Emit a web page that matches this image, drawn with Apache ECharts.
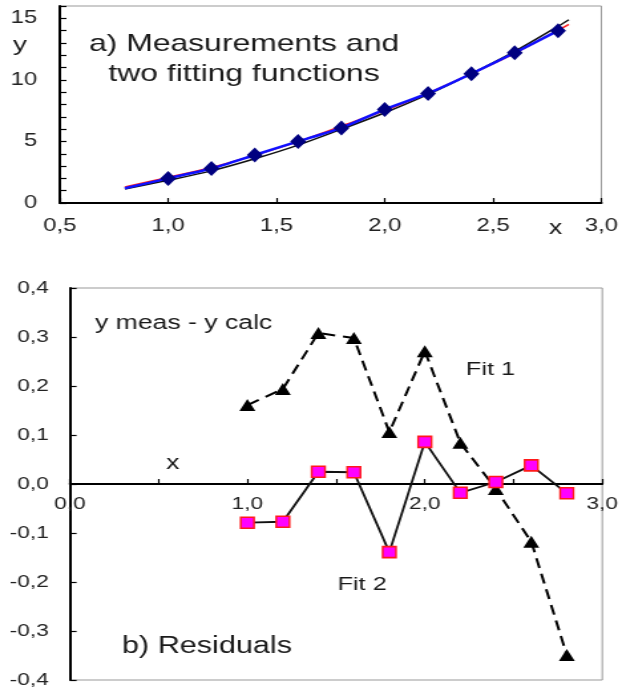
<!DOCTYPE html>
<html>
<head>
<meta charset="utf-8">
<script src="https://cdn.jsdelivr.net/npm/echarts@6/dist/echarts.min.js"></script>
<style>
  html, body { margin: 0; padding: 0; background: #fff; overflow: hidden; }
  /* the figure is laid out on a narrower canvas and widened horizontally */
  #chart { width: 468px; height: 691px; transform: scaleX(1.329); transform-origin: 0 0; }
</style>
</head>
<body>
<div id="chart"></div>
<script>
// Measurements
const xMeas = [1.0, 1.2, 1.4, 1.6, 1.8, 2.0, 2.2, 2.4, 2.6, 2.8];
const yMeas = [2.0, 2.8, 3.9, 5.0, 6.1, 7.6, 8.9, 10.5, 12.2, 14.0];

// Curve through the measurements (blue)
const xTrend = [0.8, 1.0, 1.2, 1.4, 1.6, 1.8, 2.0, 2.2, 2.4, 2.6, 2.8];
const yTrend = [1.2, 2.0, 2.8, 3.9, 5.0, 6.1, 7.6, 8.9, 10.5, 12.2, 14.0];

// Fitting functions evaluated on a grid
const xFit = [0.8, 1.0, 1.2, 1.4, 1.6, 1.8, 2.0, 2.2, 2.4, 2.6, 2.8, 2.85];
const yFit1 = [1.13, 1.84, 2.61, 3.59, 4.70, 5.99, 7.33, 8.82, 10.51, 12.32, 14.35, 14.88];
const yFit2 = [1.30, 2.08, 2.88, 3.88, 4.98, 6.24, 7.51, 8.92, 10.50, 12.16, 14.02, 14.50];

// Residuals y meas - y calc
const resFit1 = [0.161, 0.194, 0.308, 0.298, 0.106, 0.271, 0.084, -0.010, -0.118, -0.349];
const resFit2 = [-0.079, -0.077, 0.025, 0.024, -0.139, 0.086, -0.018, 0.004, 0.038, -0.019];

// Labelled ticks
const topYLabelled = [0, 5, 10, 15];
const botXLabelled = [0, 1, 2, 3];

const pairs = (xs, ys) => xs.map((x, i) => [x, ys[i]]);
const comma = v => (Math.abs(v) < 1e-9 ? 0 : v).toFixed(1).replace('.', ',');
const FONT = "'Liberation Sans', Arial, sans-serif";
const near = (list, v) => list.some(t => Math.abs(t - v) < 1e-9);

// residual panel: height of the plot area, the x axis sits at its middle (y = 0)
const RES_HEIGHT = 392;

const chart = echarts.init(document.getElementById('chart'));

const axisLine = { lineStyle: { color: '#000', width: 2 } };
const axisTick = { inside: true, length: 5, lineStyle: { color: '#000', width: 1.2 } };

chart.setOption({
  backgroundColor: '#fff',
  animation: false,
  grid: [
    { left: 45, right: 15, top: 6, height: 197, show: true, borderColor: '#999', borderWidth: 1 },
    { left: 52.6, right: 12, top: 288, height: RES_HEIGHT, show: true, borderColor: '#999', borderWidth: 1 }
  ],
  xAxis: [
    {
      gridIndex: 0, type: 'value', min: 0.5, max: 3.0, interval: 0.5,
      axisLine, axisTick, splitLine: { show: false },
      axisLabel: { fontFamily: FONT, fontSize: 18, color: '#222', margin: 14, formatter: v => comma(v) }
    },
    {
      gridIndex: 1, type: 'value', min: 0, max: 3.0, interval: 0.5,
      position: 'bottom', offset: -RES_HEIGHT / 2,
      axisLine: { onZero: false, lineStyle: { color: '#000', width: 1.8 } },
      axisTick, splitLine: { show: false },
      axisLabel: {
        fontFamily: FONT, fontSize: 17, color: '#222', margin: 12,
        formatter: v => near(botXLabelled, v) ? comma(v) : ''
      }
    }
  ],
  yAxis: [
    {
      gridIndex: 0, type: 'value', min: 0, max: 16, interval: 1,
      axisLine, axisTick, splitLine: { show: false },
      axisLabel: {
        fontFamily: FONT, fontSize: 18, color: '#222', margin: 17,
        formatter: v => near(topYLabelled, v) ? String(v) : ''
      }
    },
    {
      gridIndex: 1, type: 'value', min: -0.4, max: 0.4, interval: 0.1,
      axisLine, axisTick, splitLine: { show: false },
      axisLabel: { fontFamily: FONT, fontSize: 17, color: '#222', margin: 16, formatter: v => comma(v) }
    }
  ],
  series: [
    {
      name: 'Fit 1 curve', type: 'line', xAxisIndex: 0, yAxisIndex: 0,
      data: pairs(xFit, yFit1), smooth: 0.3, showSymbol: false,
      lineStyle: { color: '#111', width: 1.5 }, z: 2
    },
    {
      name: 'Fit 2 curve', type: 'line', xAxisIndex: 0, yAxisIndex: 0,
      data: pairs(xFit, yFit2), smooth: 0.3, showSymbol: false,
      lineStyle: { color: '#ff2020', width: 1.5 }, z: 3
    },
    {
      name: 'Trend', type: 'line', xAxisIndex: 0, yAxisIndex: 0,
      data: pairs(xTrend, yTrend), smooth: 0.2, showSymbol: false,
      lineStyle: { color: '#1010ff', width: 2.5 }, z: 4
    },
    {
      name: 'Measurements', type: 'scatter', xAxisIndex: 0, yAxisIndex: 0,
      data: pairs(xMeas, yMeas), symbol: 'diamond', symbolSize: [12, 15],
      itemStyle: { color: '#000080', opacity: 1 }, z: 5
    },
    {
      name: 'Fit 1', type: 'line', xAxisIndex: 1, yAxisIndex: 1,
      data: pairs(xMeas, resFit1), symbol: 'triangle', symbolSize: [12, 12],
      showAllSymbol: true,
      itemStyle: { color: '#000' },
      lineStyle: { color: '#000', width: 2, type: [10, 6] }, z: 3
    },
    {
      name: 'Fit 2', type: 'line', xAxisIndex: 1, yAxisIndex: 1,
      data: pairs(xMeas, resFit2), symbol: 'rect', symbolSize: [10, 11],
      showAllSymbol: true,
      itemStyle: { color: '#ff00ff', borderColor: '#ff1a1a', borderWidth: 1.5 },
      lineStyle: { color: '#111', width: 1.8 }, z: 4
    }
  ],
  graphic: [
    { type: 'text', x: 183.6, y: 44, style: { text: 'a) Measurements and', font: `24px ${FONT}`, fill: '#1a1a1a', textAlign: 'center', textVerticalAlign: 'middle' } },
    { type: 'text', x: 183.6, y: 74, style: { text: 'two fitting functions', font: `24px ${FONT}`, fill: '#1a1a1a', textAlign: 'center', textVerticalAlign: 'middle' } },
    { type: 'text', x: 15, y: 45, style: { text: 'y', font: `21px ${FONT}`, fill: '#1a1a1a', textAlign: 'center', textVerticalAlign: 'middle' } },
    { type: 'text', x: 418, y: 228, style: { text: 'x', font: `20px ${FONT}`, fill: '#1a1a1a', textAlign: 'center', textVerticalAlign: 'middle' } },
    { type: 'text', x: 71.5, y: 323, style: { text: 'y meas - y calc', font: `20px ${FONT}`, fill: '#1a1a1a', textAlign: 'left', textVerticalAlign: 'middle' } },
    { type: 'text', x: 130, y: 463, style: { text: 'x', font: `20px ${FONT}`, fill: '#1a1a1a', textAlign: 'center', textVerticalAlign: 'middle' } },
    { type: 'text', x: 350.6, y: 370, style: { text: 'Fit 1', font: `19px ${FONT}`, fill: '#1a1a1a', textAlign: 'left', textVerticalAlign: 'middle' } },
    { type: 'text', x: 254, y: 585, style: { text: 'Fit 2', font: `19px ${FONT}`, fill: '#1a1a1a', textAlign: 'left', textVerticalAlign: 'middle' } },
    { type: 'text', x: 91.8, y: 647, style: { text: 'b) Residuals', font: `23px ${FONT}`, fill: '#1a1a1a', textAlign: 'left', textVerticalAlign: 'middle' } }
  ]
});
</script>
</body>
</html>
